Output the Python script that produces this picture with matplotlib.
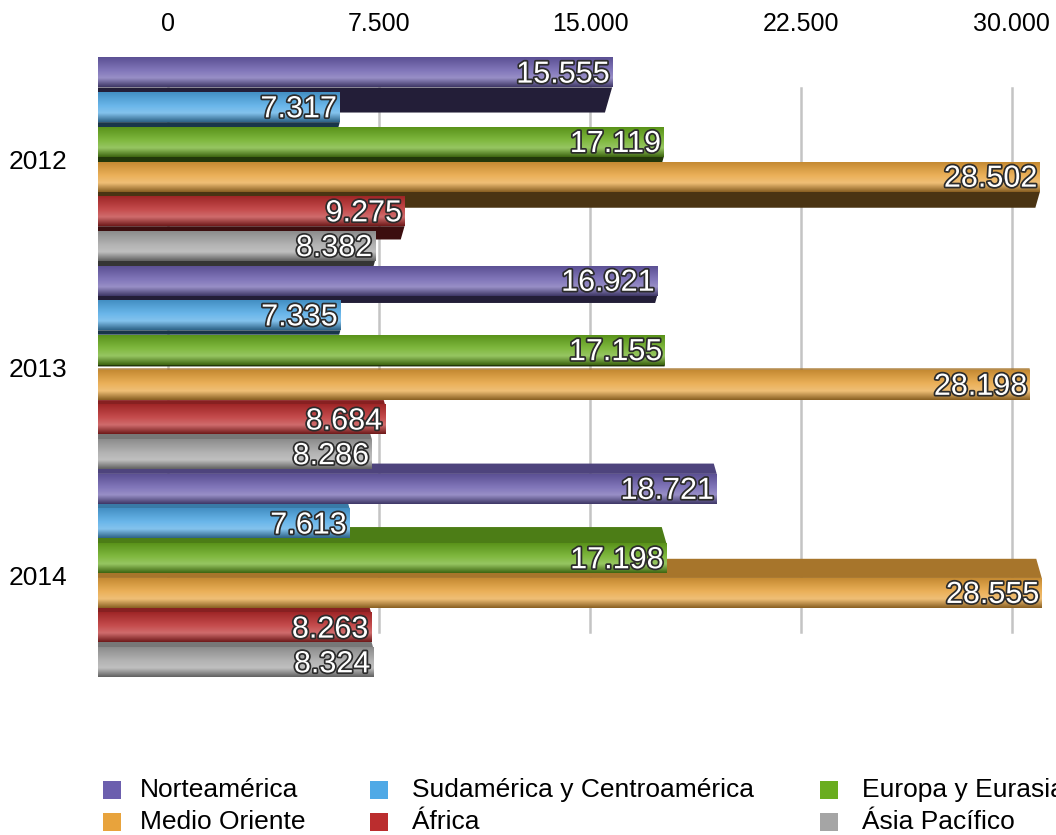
import numpy as np
import matplotlib.pyplot as plt
import matplotlib.colors as mcolors
import matplotlib.patheffects as pe
from matplotlib.patches import Polygon, Rectangle

plt.rcParams['font.family'] = ['Liberation Sans', 'DejaVu Sans']

years = ['2012', '2013', '2014']
regions = ['Norteamérica', 'Sudamérica y Centroamérica', 'Europa y Eurasia',
           'Medio Oriente', 'África', 'Ásia Pacífico']
colors = ['#6c5fae', '#4fa9e6', '#6aad1f', '#e8a33c', '#bb2d2e', '#a5a5a5']

norteamerica = [15555, 16921, 18721]
sudamerica = [7317, 7335, 7613]
europa = [17119, 17155, 17198]
medio_oriente = [28502, 28198, 28555]
africa = [9275, 8684, 8263]
asia_pacifico = [8382, 8286, 8324]
series = [norteamerica, sudamerica, europa, medio_oriente, africa, asia_pacifico]

ticks = [0, 7500, 15000, 22500, 30000]
tick_labels = ['0', '7.500', '15.000', '22.500', '30.000']

W, H = 1056, 835
fig = plt.figure(figsize=(W / 100, H / 100), dpi=100)

# front axes for the bars, back axes for the top scale and grid
ax = fig.add_axes([98 / W, (H - 690) / H, (W - 98) / W, 640 / H])
ax2 = ax.twiny()
ax2.set_zorder(ax.get_zorder() - 1)
ax.patch.set_visible(False)


def shade(c, f):
    r, g, b = mcolors.to_rgb(c)
    return (r * f, g * f, b * f)


def tint(c, f):
    r, g, b = mcolors.to_rgb(c)
    return (r + (1 - r) * f, g + (1 - g) * f, b + (1 - b) * f)


h = 0.86
n = len(regions)
centre = 8.5
for g in range(len(years)):
    for i in range(n):
        pos = g * n + i
        v = series[i][g]
        col = colors[i]
        y0, y1 = pos - h / 2, pos + h / 2

        # visible top / bottom face, depending on height in the view
        d = -0.085 * (pos - centre)
        dx = -abs(d) * 300
        if d > 0:
            face = [(0, y1), (v, y1), (v + dx, y1 + d), (0, y1 + d)]
            fc = shade(col, 0.32)
        else:
            face = [(0, y0), (v, y0), (v + dx, y0 + d), (0, y0 + d)]
            fc = shade(col, 0.72)
        ax.add_patch(Polygon(face, closed=True, facecolor=fc, edgecolor='none', zorder=1))

        # front face with a vertical gradient
        stops = np.array([0.0, 0.45, 0.7, 1.0])
        cols = np.array([shade(col, 0.85), tint(col, 0.15), tint(col, 0.3), shade(col, 0.6)])
        t = np.linspace(0, 1, 40)
        grad = np.stack([np.interp(t, stops, cols[:, k]) for k in range(3)], axis=-1)
        img = np.repeat(grad[:, None, :], 2, axis=1)
        ax.imshow(img, extent=(0, v, y1, y0), origin='upper', aspect='auto',
                  interpolation='bilinear', zorder=2 + pos * 0.01)

        label = f'{v:,}'.replace(',', '.')
        ax.text(v - 90, pos + 0.06, label, ha='right', va='center', color='white',
                fontsize=22, zorder=5,
                path_effects=[pe.withStroke(linewidth=2.5, foreground='#2b2b2b')])

ax.set_xlim(0, (W - 98) / 0.03305)
ax.set_ylim(17.8, -0.65)
ax.set_xticks([])
for s in ax.spines.values():
    s.set_visible(False)

scale = 0.02813
ax2.set_xlim((98 - 168) / scale, (W - 168) / scale)
ax2.set_xticks(ticks)
ax2.set_xticklabels(tick_labels, fontsize=18)
ax2.tick_params(axis='x', length=0, pad=10)
for s in ax2.spines.values():
    s.set_visible(False)
for t in ticks:
    ax2.axvline(t, ymin=0.09, ymax=0.94, color='#c4c4c4', lw=1.8)

# year labels on the shared y axis
ax.set_yticks([g * n + 2.5 for g in range(len(years))])
ax.set_yticklabels(years, fontsize=19)
ax.tick_params(axis='y', length=0, pad=22)

# legend
col_x = [103, 370, 820]
row_y = [790, 822]
for k, (name, c) in enumerate(zip(regions, colors)):
    r, cidx = divmod(k, 3)
    x, y = col_x[cidx], row_y[r]
    fig.add_artist(Rectangle((x / W, (H - y - 9) / H), 18 / W, 18 / H,
                             transform=fig.transFigure, facecolor=c, edgecolor='none'))
    fig.text((x + 37 + (5 if cidx > 0 else 0)) / W, (H - y) / H, name,
             fontsize=19, va='center', ha='left')

fig.savefig('out.png', dpi=100)
